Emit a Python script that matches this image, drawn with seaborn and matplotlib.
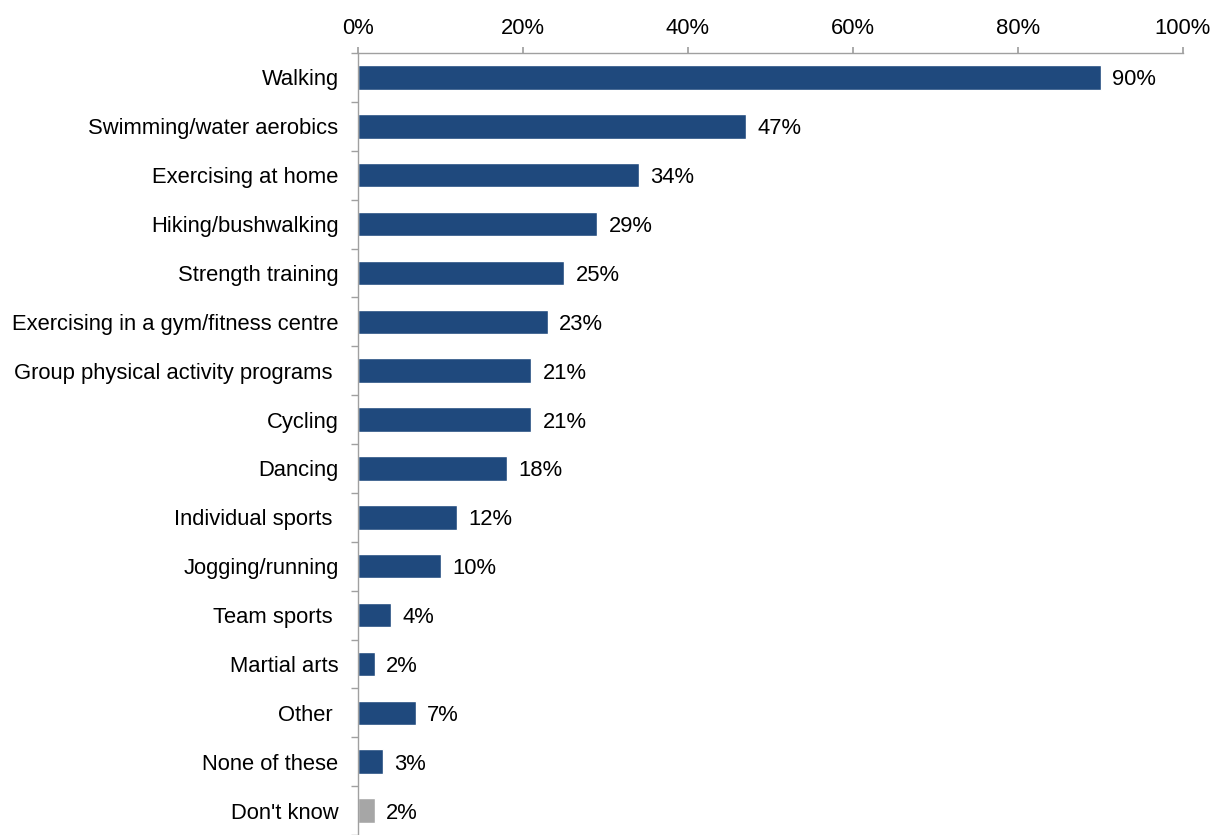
import matplotlib
matplotlib.use("Agg")
import matplotlib.pyplot as plt
import seaborn as sns
import pandas as pd
import numpy as np

activities = [
    "Walking", "Swimming/water aerobics", "Exercising at home", "Hiking/bushwalking",
    "Strength training", "Exercising in a gym/fitness centre",
    "Group physical activity programs ", "Cycling", "Dancing", "Individual sports ",
    "Jogging/running", "Team sports ", "Martial arts", "Other ", "None of these",
    "Don't know",
]
shares = [90, 47, 34, 29, 25, 23, 21, 21, 18, 12, 10, 4, 2, 7, 3, 2]
bar_colors = ["#1F497D"] * 15 + ["#A6A6A6"]

df = pd.DataFrame({"activity": activities, "share": shares})

sns.set_theme(style="white")
plt.rcParams["font.family"] = ["Liberation Sans", "DejaVu Sans"]

fs = 15.8
fig = plt.figure(figsize=(12.13, 8.35), dpi=100)
ax = fig.add_axes([358 / 1213, 0.0, 825 / 1213, 1 - 53 / 835])

sns.barplot(data=df, x="share", y="activity", hue="activity", palette=bar_colors,
            legend=False, width=0.5, ax=ax, saturation=1)

ax.set_xlim(0, 100)
ax.set_ylim(15.43, -0.5)
ax.xaxis.tick_top()
ax.set_xticks(np.arange(0, 101, 20))
ax.set_xticklabels([f"{v}%" for v in range(0, 101, 20)])
ax.set_xlabel("")
ax.set_ylabel("")

grey = "#A0A0A0"
for side in ["right", "bottom"]:
    ax.spines[side].set_visible(False)
for side in ["left", "top"]:
    ax.spines[side].set_color(grey)
    ax.spines[side].set_linewidth(1.0)

ax.tick_params(axis="x", which="major", top=True, direction="out", length=4,
               color=grey, labelsize=fs, pad=6, labelcolor="black")
ax.tick_params(axis="y", which="major", length=0, labelsize=fs, pad=14,
               labelcolor="black")
ax.set_yticks(np.arange(-0.5, 16, 1), minor=True)
ax.tick_params(axis="y", which="minor", left=True, direction="out", length=5,
               color=grey)

for i, v in enumerate(shares):
    ax.text(v + 1.4, i, f"{v}%", va="center_baseline", ha="left", fontsize=fs,
            color="black")

fig.savefig("out.png", dpi=100)
